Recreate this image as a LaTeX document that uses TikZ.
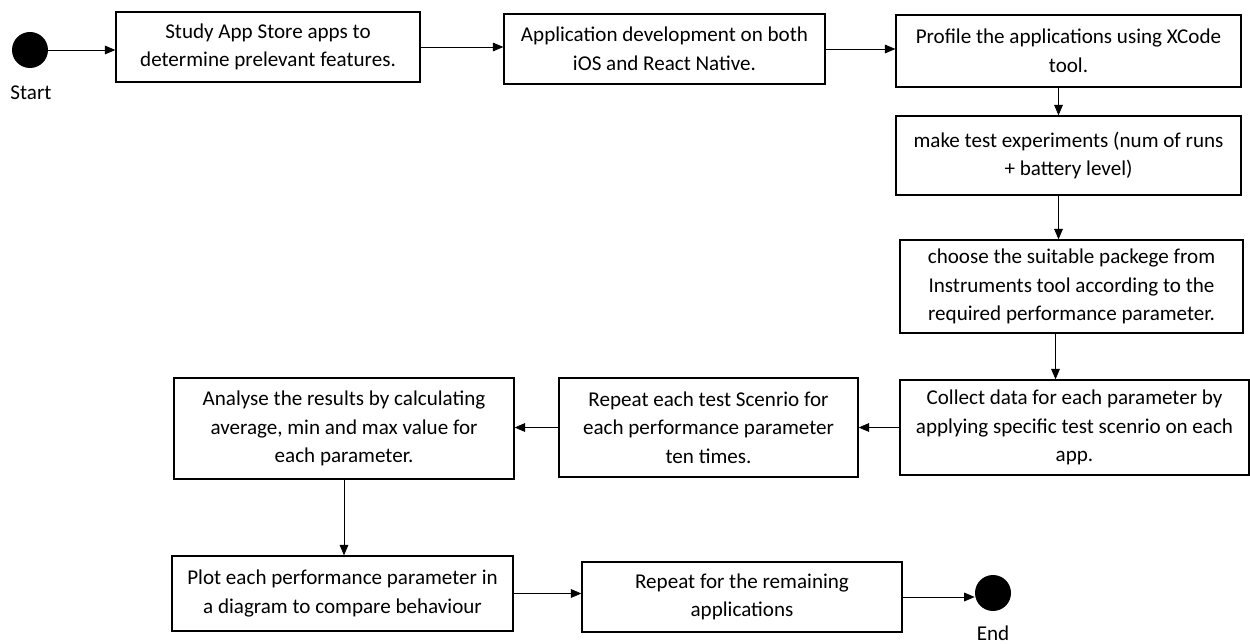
\documentclass[tikz,border=0pt]{standalone}
\usepackage{fontspec}
\setmainfont{Carlito}
\usetikzlibrary{arrows.meta}

\begin{document}
\begin{tikzpicture}[x = 0.02cm, y = -0.02cm, >={Triangle[length = 6pt, width = 5pt]},
		box/.style = {draw, line width = 0.8pt, align = center, inner sep = 2pt, font = \fontsize{12}{16.2}\selectfont},
		dot/.style = {circle, fill, minimum size = 0.72cm, inner sep = 0pt},
		lbl/.style = {font = \fontsize{12}{14.8}\selectfont}]
		\useasboundingbox (0, 0) rectangle (1250, 644);
		% start and end
		\node[dot] (start) at (30, 50) {};
		\node[lbl] (startlbl) at (31, 93) {Start};
		\node[dot] (end) at (993, 593) {};
		\node[lbl] (endlbl) at (993, 633) {End};
		% top row
		\node[box, minimum width = 6.08cm, minimum height = 1.4cm] (b1) at (268, 47)
			{Study App Store apps to\\determine prelevant features.};
		\node[box, minimum width = 6.42cm, minimum height = 1.4cm] (b2) at (664.5, 49)
			{Application development on both\\iOS and React Native.};
		\node[box, minimum width = 6.9cm, minimum height = 1.44cm] (b3) at (1068.5, 51)
			{Profile the applications using XCode\\tool.};
		% right column
		\node[box, minimum width = 6.9cm, minimum height = 1.58cm] (b4) at (1068.5, 155.5)
			{make test experiments (num of runs\\+ battery level)};
		\node[box, minimum width = 6.86cm, minimum height = 1.86cm] (b5) at (1071.5, 286.5)
			{choose the suitable packege from\\Instruments tool according to the\\required performance parameter.};
		\node[box, minimum width = 6.98cm, minimum height = 1.9cm] (b6) at (1074.5, 427.5)
			{Collect data for each parameter by\\applying specific test scenrio on each\\app.};
		% middle row
		\node[box, minimum width = 5.98cm, minimum height = 1.98cm] (b7) at (708.5, 427.5)
			{Repeat each test Scenrio for\\each performance parameter\\ten times.};
		\node[box, minimum width = 6.8cm, minimum height = 2.02cm] (b8) at (344, 428.5)
			{Analyse the results by calculating\\average, min and max value for\\each parameter.};
		% bottom row
		\node[box, minimum width = 6.82cm, minimum height = 1.5cm] (b9) at (342.5, 593.5)
			{Plot each performance parameter in\\a diagram to compare behaviour};
		\node[box, minimum width = 6.4cm, minimum height = 1.4cm] (b10) at (742, 597)
			{Repeat for the remaining\\applications};
		% arrows
		\draw[->] (start.east) -- (start.east -| b1.west);
		\draw[->] (b1.east) -- (b1.east -| b2.west);
		\draw[->] (b2.east) -- (b2.east -| b3.west);
		\draw[->] ([xshift = -0.2cm]b3.south) -- ([xshift = -0.2cm]b3.south |- b4.north);
		\draw[->] ([xshift = -0.2cm]b4.south) -- ([xshift = -0.2cm]b4.south |- b5.north);
		\draw[->] ([xshift = -0.32cm]b5.south) -- ([xshift = -0.32cm]b5.south |- b6.north);
		\draw[->] (b6.west) -- (b6.west -| b7.east);
		\draw[->] (b7.west) -- (b7.west -| b8.east);
		\draw[->] (b8.south) -- (b8.south |- b9.north);
		\draw[->] (b9.east) -- (b9.east -| b10.west);
		\draw[->] (b10.east) -- (b10.east -| end.west);
	\end{tikzpicture}
\end{document}
